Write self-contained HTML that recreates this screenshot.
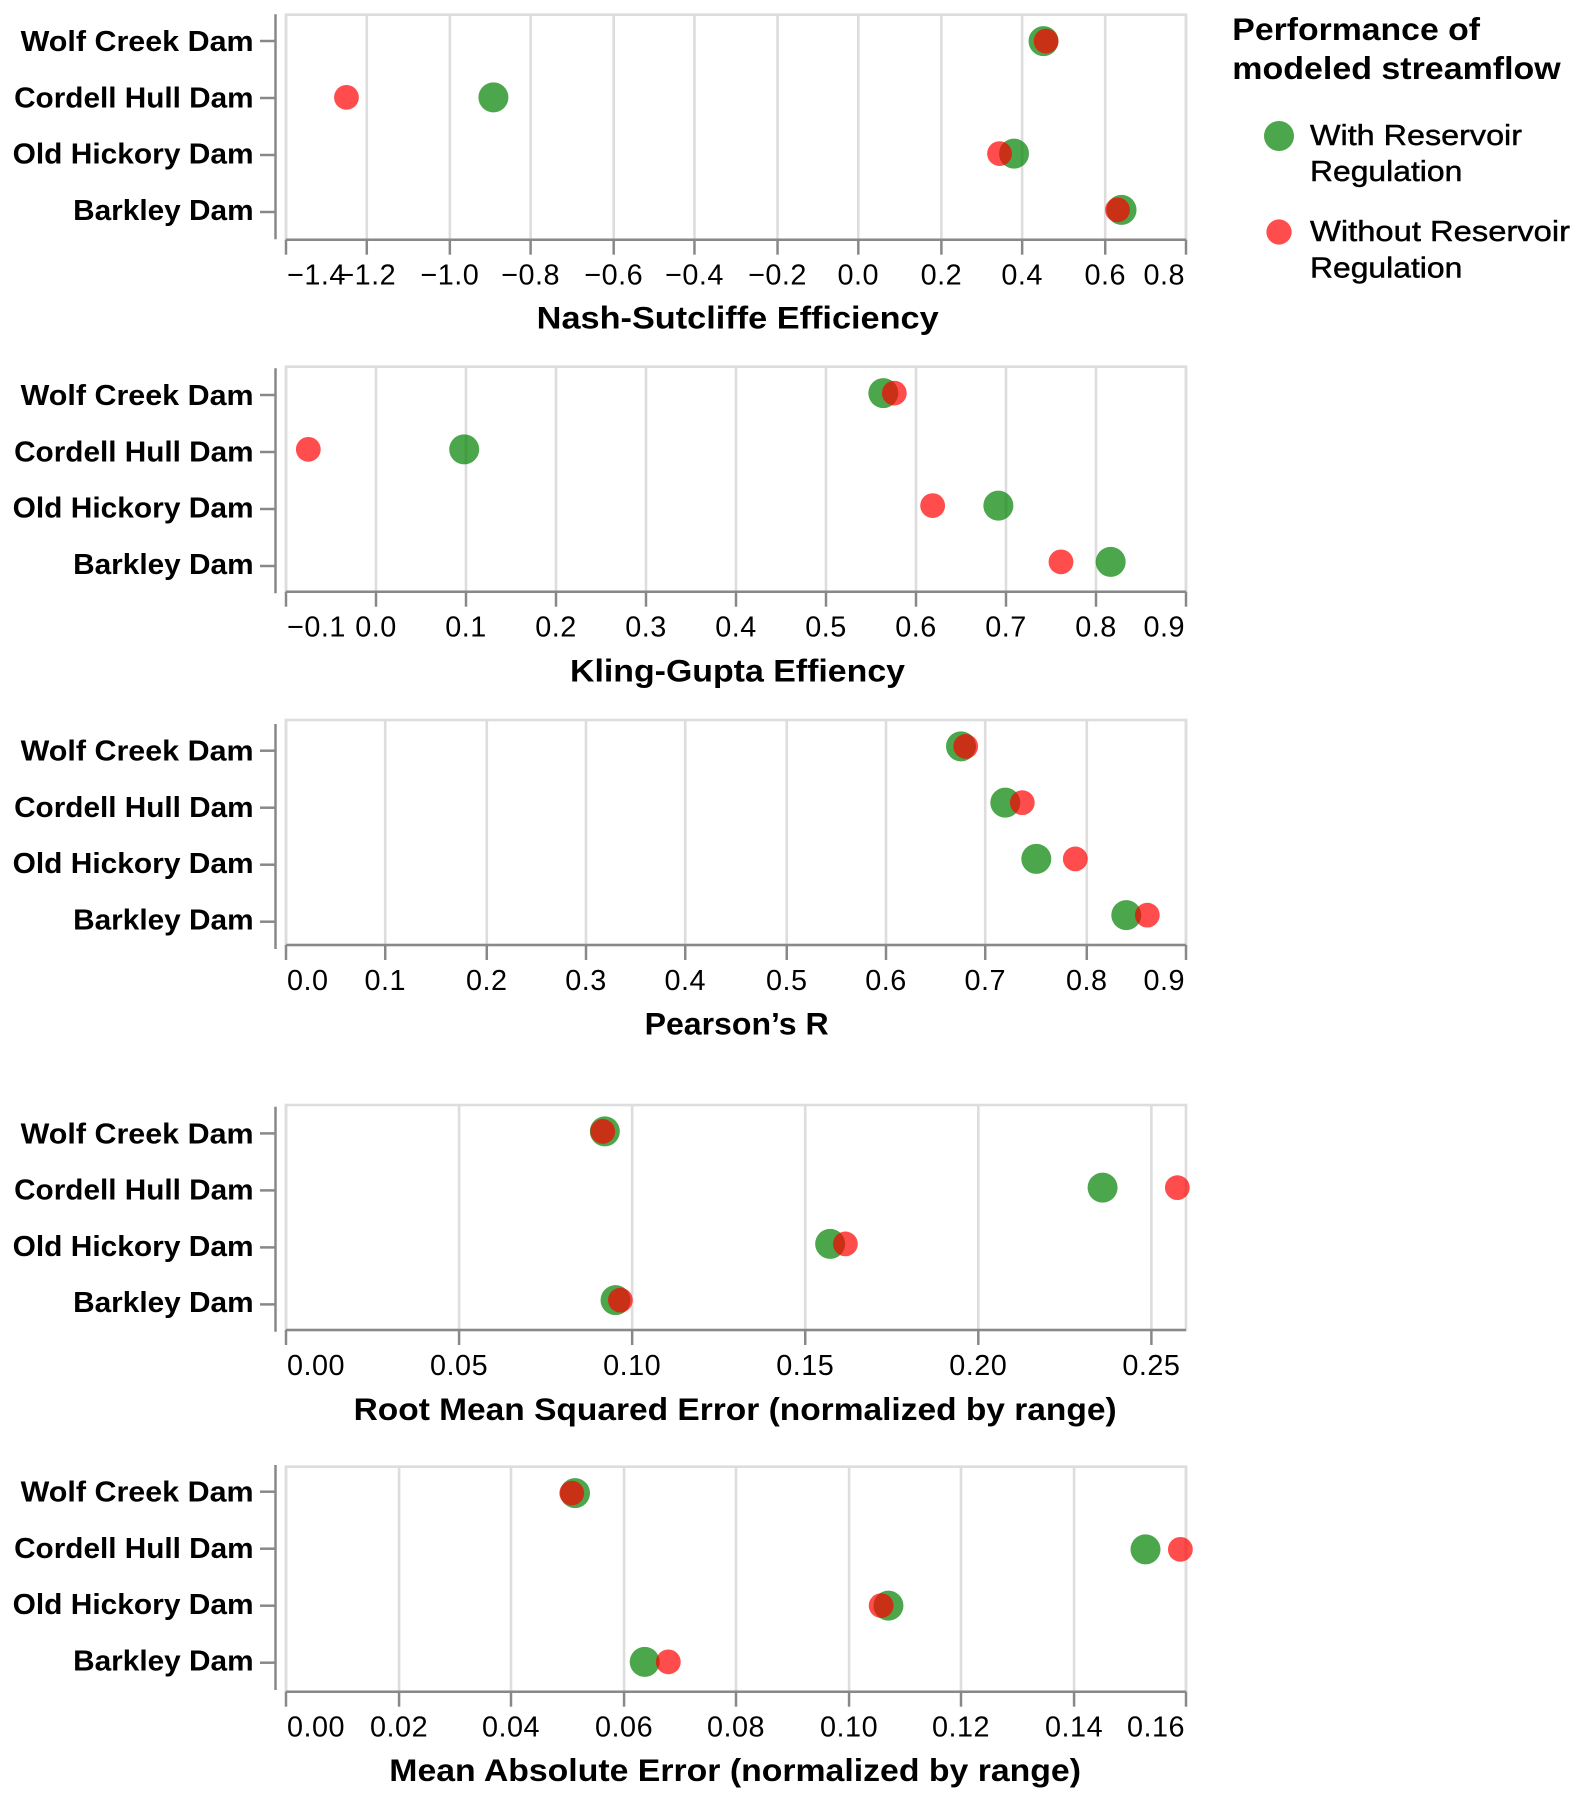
<!DOCTYPE html>
<html lang="en">
<head>
<meta charset="utf-8">
<title>Performance of modeled streamflow</title>
<style>
html,body{margin:0;padding:0;background:#fff;}
svg{display:block;}
text{font-family:"Liberation Sans",Arial,sans-serif;fill:#000;}
.ytl{font-size:28.8px;font-weight:700;text-anchor:end;}
.xtl{font-size:28.8px;font-weight:400;letter-spacing:.5px;}
.ttl{font-size:31.5px;font-weight:700;}
.leg{font-size:28.8px;font-weight:400;stroke:#000;stroke-width:.45px;}
</style>
</head>
<body>
<svg id="chart" xmlns="http://www.w3.org/2000/svg" width="1584" height="1802" viewBox="0 0 1584 1802">
  <rect width="1584" height="1802" fill="#fff"/>
  <g id="panels"></g>

  <text class="ttl" x="536.7" y="328.5" textLength="402" lengthAdjust="spacingAndGlyphs">Nash-Sutcliffe Efficiency</text>
  <text class="ttl" x="570" y="681.7" textLength="335" lengthAdjust="spacingAndGlyphs">Kling-Gupta Effiency</text>
  <text class="ttl" x="644.6" y="1034.5" textLength="184" lengthAdjust="spacingAndGlyphs">Pearson’s R</text>
  <text class="ttl" x="353.6" y="1420" textLength="763" lengthAdjust="spacingAndGlyphs">Root Mean Squared Error (normalized by range)</text>
  <text class="ttl" x="389.3" y="1781" textLength="691.7" lengthAdjust="spacingAndGlyphs">Mean Absolute Error (normalized by range)</text>

  <g>
    <text class="ttl" x="1232.3" y="40" textLength="247.7" lengthAdjust="spacingAndGlyphs">Performance of</text>
    <text class="ttl" x="1232.3" y="79" textLength="328.4" lengthAdjust="spacingAndGlyphs">modeled streamflow</text>
    <circle cx="1279" cy="136" r="15" fill="#008000" fill-opacity=".7"/>
    <text class="leg" x="1310" y="145" textLength="212" lengthAdjust="spacingAndGlyphs">With Reservoir</text>
    <text class="leg" x="1310" y="181" textLength="152.3" lengthAdjust="spacingAndGlyphs">Regulation</text>
    <circle cx="1279" cy="232" r="12.6" fill="#ff0000" fill-opacity=".7"/>
    <text class="leg" x="1310" y="241" textLength="260" lengthAdjust="spacingAndGlyphs">Without Reservoir</text>
    <text class="leg" x="1310" y="277.3" textLength="152.3" lengthAdjust="spacingAndGlyphs">Regulation</text>
  </g>
</svg>
<script>
/* ---------- data ---------- */
const dams = ["Wolf Creek Dam", "Cordell Hull Dam", "Old Hickory Dam", "Barkley Dam"];

const nseTicks = ["−1.4","−1.2","−1.0","−0.8","−0.6","−0.4","−0.2","0.0","0.2","0.4","0.6","0.8"];
const nseDomain = [-1.4, 0.8];
const nseWith = [0.4517, -0.8930, 0.3796, 0.6424];
const nseWithout = [0.4579, -1.2522, 0.3442, 0.6326];

const kgeTicks = ["−0.1","0.0","0.1","0.2","0.3","0.4","0.5","0.6","0.7","0.8","0.9"];
const kgeDomain = [-0.1, 0.9];
const kgeWith = [0.5637, 0.098, 0.6915, 0.8163];
const kgeWithout = [0.5759, -0.0752, 0.6185, 0.7611];

const pearsonTicks = ["0.0","0.1","0.2","0.3","0.4","0.5","0.6","0.7","0.8","0.9"];
const pearsonDomain = [0, 0.9];
const pearsonWith = [0.675, 0.7193, 0.7503, 0.8403];
const pearsonWithout = [0.6797, 0.7363, 0.7893, 0.8613];

const rmseTicks = ["0.00","0.05","0.10","0.15","0.20","0.25"];
const rmseDomain = [0, 0.26];
const rmseWith = [0.0921, 0.2359, 0.1572, 0.0952];
const rmseWithout = [0.0915, 0.2575, 0.1616, 0.0966];

const maeTicks = ["0.00","0.02","0.04","0.06","0.08","0.10","0.12","0.14","0.16"];
const maeDomain = [0, 0.16];
const maeWith = [0.05138, 0.1528, 0.1071, 0.06377];
const maeWithout = [0.0508, 0.159, 0.1058, 0.06797];

/* ---------- layout ---------- */
const NS = "http://www.w3.org/2000/svg";
const PLOT_LEFT = 286, PLOT_W = 900, PLOT_H = 225;
const AXIS_X = 275.5, GRID_W = 2.6, AXIS_W = 2.5, GRID = "#dddddd", AXIS = "#888888";
const root = document.getElementById("panels");
/* rendered width of each dam label, to match the reference type metrics */
const damLabelFit = {"Wolf Creek Dam":233, "Cordell Hull Dam":239.5, "Old Hickory Dam":241, "Barkley Dam":180.5};

function make(parent, tag, attrs, text) {
  const el = document.createElementNS(NS, tag);
  for (const k in attrs) el.setAttribute(k, attrs[k]);
  if (text !== undefined) el.textContent = text;
  parent.appendChild(el);
  return el;
}
function tickValue(label) { return parseFloat(label.replace("−", "-")); }

function drawPanel(key, top, axisTop, snapUnits, domain, ticks, withVals, withoutVals) {
  const bottom = top + PLOT_H;
  const frac = v => (v - domain[0]) / (domain[1] - domain[0]);
  const xMark = v => PLOT_LEFT + frac(v) * PLOT_W;
  const xTick = v => PLOT_LEFT + Math.round(frac(v) * snapUnits) * PLOT_W / snapUnits;
  const yMark = i => top + 26.4 + i * 56.25;
  const yTick = i => axisTop + 26.7 + i * 57;
  const yLabel = i => axisTop + 36.7 + i * 56.25;

  const g = make(root, "g", {});
  
  

  ticks.forEach(label => {
    const x = xTick(tickValue(label));
    const gl = make(g, "line", {x1:x, x2:x, y1:top, y2:bottom, stroke:GRID, "stroke-width":GRID_W});
    
    
  });

  const frame = make(g, "rect", {x:PLOT_LEFT, y:top, width:PLOT_W, height:PLOT_H, fill:"none", stroke:GRID, "stroke-width":GRID_W});
  
  

  const xAxis = make(g, "line", {x1:PLOT_LEFT, x2:PLOT_LEFT + PLOT_W, y1:bottom, y2:bottom, stroke:AXIS, "stroke-width":AXIS_W});
  
  

  ticks.forEach((label, n) => {
    const x = xTick(tickValue(label));
    const tk = make(g, "line", {x1:x, x2:x, y1:bottom, y2:bottom + 15, stroke:AXIS, "stroke-width":AXIS_W});
    
    

    const atEnd = Math.abs(frac(tickValue(label)) - 1) < 1e-6;
    const anchor = n === 0 ? "start" : (atEnd ? "end" : "middle");
    const tx = n === 0 ? x + 1 : (atEnd ? x - 1 : x);
    const lb = make(g, "text", {class:"xtl", x:tx, y:bottom + 45, "text-anchor":anchor}, label);
    
    
  });

  const yAxis = make(g, "line", {x1:AXIS_X, x2:AXIS_X, y1:axisTop, y2:axisTop + PLOT_H, stroke:AXIS, "stroke-width":AXIS_W});
  
  

  dams.forEach((dam, i) => {
    const y = yTick(i);
    const tk = make(g, "line", {x1:260, x2:AXIS_X, y1:y, y2:y, stroke:AXIS, "stroke-width":AXIS_W});
    
    

    const lb = make(g, "text", {class:"ytl", x:253.6, y:yLabel(i), textLength:damLabelFit[dam], lengthAdjust:"spacingAndGlyphs"}, dam);
    
    
  });

  dams.forEach((dam, i) => {
    const c = make(g, "circle", {cx:xMark(withVals[i]), cy:yMark(i), r:15, fill:"#008000", "fill-opacity":0.7});
    
    
  });
  dams.forEach((dam, i) => {
    const c = make(g, "circle", {cx:xMark(withoutVals[i]), cy:yMark(i), r:12.4, fill:"#ff0000", "fill-opacity":0.7});
    
    
  });
}

drawPanel("nse", 14.7, 14.3, 390, nseDomain, nseTicks, nseWith, nseWithout);
drawPanel("kge", 366.7, 368.3, 390, kgeDomain, kgeTicks, kgeWith, kgeWithout);
drawPanel("pearson", 720, 724, 390, pearsonDomain, pearsonTicks, pearsonWith, pearsonWithout);
drawPanel("rmse", 1105, 1106.7, 390, rmseDomain, rmseTicks, rmseWith, rmseWithout);
drawPanel("mae", 1466.7, 1465, 780, maeDomain, maeTicks, maeWith, maeWithout);
</script>
</body>
</html>
